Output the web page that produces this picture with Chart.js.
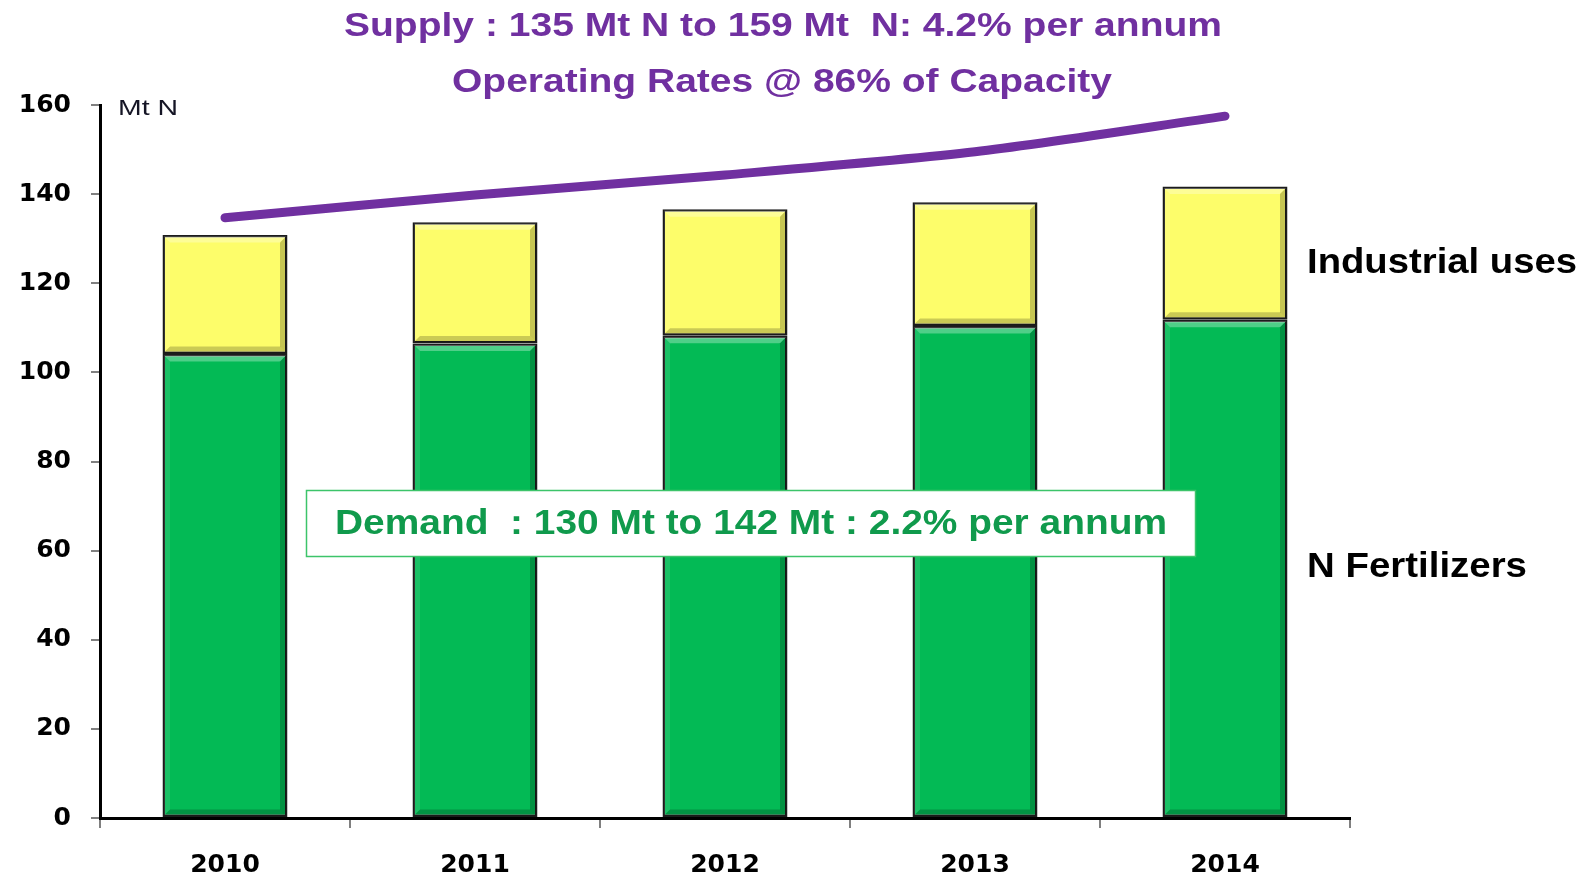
<!DOCTYPE html>
<html>
<head>
<meta charset="utf-8">
<script src="https://cdn.jsdelivr.net/npm/chart.js@4/dist/chart.umd.min.js"></script>
<style>
  html, body { margin: 0; padding: 0; background: #fff; }
  #wrap { width: 1587px; height: 879px; position: relative; }
</style>
</head>
<body>
<div id="wrap"><canvas id="c" width="1587" height="879"></canvas></div>
<script>
// ---- data ----
const years = ['2010', '2011', '2012', '2013', '2014'];
const nFertilizers = [104.1, 106.5, 108.2, 110.4, 111.8];
const industrialUses = [26.7, 27.2, 28.4, 27.8, 29.9];
const supply = [134.7, 139.8, 144.3, 149.5, 157.5];
const yTicks = [0, 20, 40, 60, 80, 100, 120, 140, 160];

const titleLine1 = 'Supply : 135 Mt N to 159 Mt  N: 4.2% per annum';
const titleLine2 = 'Operating Rates @ 86% of Capacity';
const unitLabel = 'Mt N';
const demandText = 'Demand  : 130 Mt to 142 Mt : 2.2% per annum';
const industrialLabel = 'Industrial uses';
const fertLabel = 'N Fertilizers';

// draw text stretched horizontally to a given width (baseline y)
function stretchText(ctx, text, font, color, left, baseline, width) {
  ctx.save();
  ctx.font = font;
  ctx.fillStyle = color;
  ctx.textAlign = 'left';
  ctx.textBaseline = 'alphabetic';
  const m = ctx.measureText(text).width;
  ctx.translate(left, baseline);
  ctx.scale(width / m, 1);
  ctx.fillText(text, 0, 0);
  ctx.restore();
}

const bevelPlugin = {
  id: 'bevel',
  afterDatasetDraw(chart, args) {
    const ds = chart.data.datasets[args.index];
    if (ds.type === 'line') return;
    const ctx = chart.ctx;
    const meta = args.meta;
    meta.data.forEach(bar => {
      const l = bar.x - bar.width / 2 + 1.5, r = bar.x + bar.width / 2 - 1.5;
      const t = Math.min(bar.y, bar.base) + 1.5, b = Math.max(bar.y, bar.base) - 1.5;
      const e = 6;
      ctx.save();
      ctx.fillStyle = 'rgba(255,255,255,0.3)';
      ctx.beginPath();
      ctx.moveTo(l, t); ctx.lineTo(r, t); ctx.lineTo(r - e, t + e); ctx.lineTo(l + e, t + e); ctx.closePath();
      ctx.fill();
      ctx.fillStyle = 'rgba(255,255,255,0.1)';
      ctx.beginPath();
      ctx.moveTo(l, t); ctx.lineTo(l + e, t + e); ctx.lineTo(l + e, b - e); ctx.lineTo(l, b); ctx.closePath();
      ctx.fill();
      ctx.fillStyle = 'rgba(0,0,0,0.22)';
      ctx.beginPath();
      ctx.moveTo(r, t); ctx.lineTo(r, b); ctx.lineTo(r - e, b - e); ctx.lineTo(r - e, t + e); ctx.closePath();
      ctx.fill();
      ctx.fillStyle = 'rgba(0,0,0,0.2)';
      ctx.beginPath();
      ctx.moveTo(l, b); ctx.lineTo(r, b); ctx.lineTo(r - e, b - e); ctx.lineTo(l + e, b - e); ctx.closePath();
      ctx.fill();
      ctx.restore();
    });
  }
};

const annotationPlugin = {
  id: 'annots',
  afterDraw(chart) {
    const ctx = chart.ctx;
    const purple = '#7030A0';
    stretchText(ctx, titleLine1, 'bold 33px "Liberation Sans", Arial, sans-serif', purple, 344, 36, 878);
    stretchText(ctx, titleLine2, 'bold 33px "Liberation Sans", Arial, sans-serif', purple, 452, 92, 660);
    stretchText(ctx, unitLabel, '22px "Liberation Sans", Arial, sans-serif', '#151525', 118, 115, 60);
    stretchText(ctx, industrialLabel, 'bold 35px "Liberation Sans", Arial, sans-serif', '#000', 1307, 273, 270);
    stretchText(ctx, fertLabel, 'bold 35px "Liberation Sans", Arial, sans-serif', '#000', 1307, 577, 220);
    ctx.save();
    ctx.fillStyle = '#ffffff';
    ctx.fillRect(306, 490, 889, 66);
    ctx.strokeStyle = '#3cc46a';
    ctx.lineWidth = 1.5;
    ctx.strokeRect(306.5, 490.5, 889, 66);
    ctx.restore();
    stretchText(ctx, demandText, 'bold 35px "Liberation Sans", Arial, sans-serif', '#109A4C', 335, 534, 832);
  }
};

new Chart(document.getElementById('c'), {
  data: {
    labels: years,
    datasets: [
      {
        type: 'bar',
        label: 'N Fertilizers',
        data: nFertilizers,
        backgroundColor: '#03BA55',
        borderColor: '#1c1c1c',
        borderWidth: 2.5,
        borderSkipped: false,
        stack: 'demand',
        barPercentage: 0.5,
        categoryPercentage: 1,
        order: 1
      },
      {
        type: 'bar',
        label: 'Industrial uses',
        data: industrialUses,
        backgroundColor: '#FDFD6A',
        borderColor: '#1c1c1c',
        borderWidth: 2.5,
        borderSkipped: false,
        stack: 'demand',
        barPercentage: 0.5,
        categoryPercentage: 1,
        order: 1
      },
      {
        type: 'line',
        label: 'Supply',
        data: supply,
        borderColor: '#7030A0',
        borderWidth: 9,
        borderCapStyle: 'round',
        borderJoinStyle: 'round',
        pointRadius: 0,
        tension: 0.25,
        fill: false,
        stack: 'supply',
        order: 0
      }
    ]
  },
  options: {
    responsive: false,
    animation: false,
    layout: { padding: { left: 0, right: 237, top: 105, bottom: 0 } },
    plugins: { legend: { display: false }, tooltip: { enabled: false } },
    scales: {
      x: {
        stacked: true,
        offset: true,
        grid: { display: true, drawOnChartArea: false, drawTicks: true, tickLength: 10, tickColor: '#808080', lineWidth: 2, offset: true },
        border: { display: true, color: '#000', width: 3 },
        ticks: { color: '#000', font: { family: '"DejaVu Sans", sans-serif', weight: 'bold', size: 25 }, padding: 22 },
        afterFit(s) { s.height = 61; }
      },
      y: {
        stacked: true,
        min: 0,
        max: 160,
        afterBuildTicks(s) { s.ticks = yTicks.map(v => ({ value: v })); },
        grid: { display: true, drawOnChartArea: false, drawTicks: true, tickLength: 9, tickColor: '#808080', lineWidth: 2 },
        border: { display: true, color: '#000', width: 3 },
        ticks: { color: '#000', font: { family: '"DejaVu Sans", sans-serif', weight: 'bold', size: 25 }, padding: 20 },
        afterFit(s) { s.width = 100; }
      }
    }
  },
  plugins: [bevelPlugin, annotationPlugin]
});
</script>
</body>
</html>
